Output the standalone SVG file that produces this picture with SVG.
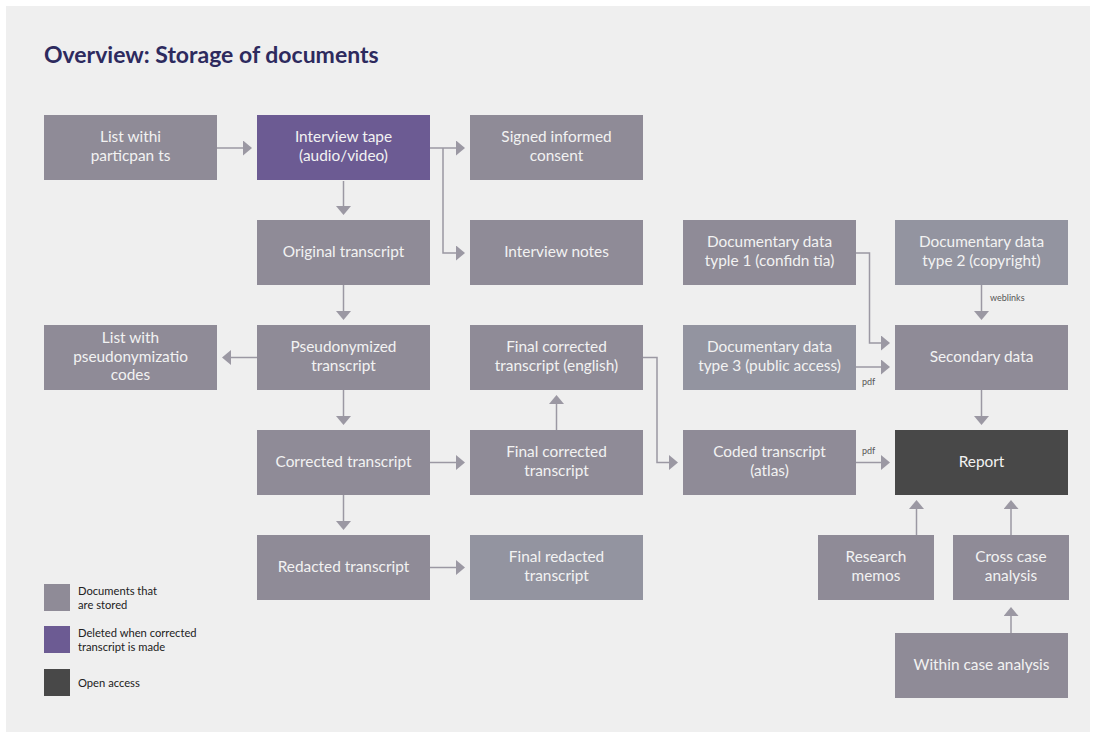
<svg xmlns="http://www.w3.org/2000/svg" width="1096" height="738" viewBox="0 0 1096 738">
<defs>
<style>
.bx{fill:#8f8b97}
.bb{fill:#9394a0}
.pu{fill:#6c5b93}
.dk{fill:#484848}
.t{font-family:Lato,"Open Sans",sans-serif;font-size:15.4px;fill:#f2f2f2;text-anchor:middle}
.c{fill:none;stroke:#9b98a3;stroke-width:1.5}
.lb{font-family:Lato,"Open Sans",sans-serif;font-size:9px;fill:#555}
.lg{font-family:Lato,"Open Sans",sans-serif;font-size:11.2px;fill:#222}
</style>
<marker id="ah" viewBox="0 0 9 15" markerWidth="9" markerHeight="15" markerUnits="userSpaceOnUse" refX="0" refY="7.5" orient="auto">
<path d="M0,0 L9,7.5 L0,15 Z" fill="#9b98a3"/>
</marker>
</defs>
<rect x="0" y="0" width="1096" height="738" fill="#ffffff"/>
<rect x="6" y="6" width="1084" height="726" fill="#efefef"/>
<text x="44" y="63" font-family="Lato,'Open Sans',sans-serif" font-size="23" font-weight="bold" fill="#2d2a5e">Overview: Storage of documents</text>

<g id="connectors">
<path class="c" marker-end="url(#ah)" d="M217,148 H243"/>
<path class="c" marker-end="url(#ah)" d="M430,148 H456"/>
<path class="c" marker-end="url(#ah)" d="M443,148 V253 H456"/>
<path class="c" marker-end="url(#ah)" d="M343.5,181 V206"/>
<path class="c" marker-end="url(#ah)" d="M343.5,285 V311"/>
<path class="c" marker-end="url(#ah)" d="M257,357.5 H231"/>
<path class="c" marker-end="url(#ah)" d="M343.5,390 V416"/>
<path class="c" marker-end="url(#ah)" d="M430,462.5 H456"/>
<path class="c" marker-end="url(#ah)" d="M343.5,495 V521"/>
<path class="c" marker-end="url(#ah)" d="M430,567.5 H456"/>
<path class="c" marker-end="url(#ah)" d="M556.5,430 V404"/>
<path class="c" marker-end="url(#ah)" d="M643,357.5 H657 V462.5 H669"/>
<path class="c" marker-end="url(#ah)" d="M856,253 H869.5 V343 H881"/>
<path class="c" marker-end="url(#ah)" d="M856,367 H881"/>
<path class="c" marker-end="url(#ah)" d="M981.5,285 V311"/>
<path class="c" marker-end="url(#ah)" d="M981.5,390 V416"/>
<path class="c" marker-end="url(#ah)" d="M856,462.5 H881"/>
<path class="c" marker-end="url(#ah)" d="M916.5,535 V509"/>
<path class="c" marker-end="url(#ah)" d="M1011,535 V509"/>
<path class="c" marker-end="url(#ah)" d="M1011,633 V616"/>
<text class="lb" x="990" y="301">weblinks</text>
<text class="lb" x="862" y="385">pdf</text>
<text class="lb" x="862" y="454">pdf</text>
</g>

<g id="n-list-participants"><rect class="bx" x="44" y="115" width="173" height="65"/><text class="t" x="130.5" y="142">List withi</text><text class="t" x="130.5" y="161">particpan ts</text></g>
<g id="n-interview-tape"><rect class="pu" x="257" y="115" width="173" height="65"/><text class="t" x="343.5" y="142">Interview tape</text><text class="t" x="343.5" y="161">(audio/video)</text></g>
<g id="n-signed-consent"><rect class="bx" x="470" y="115" width="173" height="65"/><text class="t" x="556.5" y="142">Signed informed</text><text class="t" x="556.5" y="161">consent</text></g>
<g id="n-original-transcript"><rect class="bx" x="257" y="220" width="173" height="65"/><text class="t" x="343.5" y="257">Original transcript</text></g>
<g id="n-interview-notes"><rect class="bx" x="470" y="220" width="173" height="65"/><text class="t" x="556.5" y="257">Interview notes</text></g>
<g id="n-doc-type1"><rect class="bx" x="683" y="220" width="173" height="65"/><text class="t" x="769.5" y="247">Documentary data</text><text class="t" x="769.5" y="266">typle 1 (confidn tia)</text></g>
<g id="n-doc-type2"><rect class="bb" x="895" y="220" width="173" height="65"/><text class="t" x="981.5" y="247">Documentary data</text><text class="t" x="981.5" y="266">type 2 (copyright)</text></g>
<g id="n-list-pseudo"><rect class="bx" x="44" y="325" width="173" height="65"/><text class="t" x="130.5" y="343">List with</text><text class="t" x="130.5" y="361.5">pseudonymizatio</text><text class="t" x="130.5" y="380">codes</text></g>
<g id="n-pseudo-transcript"><rect class="bx" x="257" y="325" width="173" height="65"/><text class="t" x="343.5" y="352">Pseudonymized</text><text class="t" x="343.5" y="371">transcript</text></g>
<g id="n-final-english"><rect class="bx" x="470" y="325" width="173" height="65"/><text class="t" x="556.5" y="352">Final corrected</text><text class="t" x="556.5" y="371">transcript (english)</text></g>
<g id="n-doc-type3"><rect class="bb" x="683" y="325" width="173" height="65"/><text class="t" x="769.5" y="352">Documentary data</text><text class="t" x="769.5" y="371">type 3 (public access)</text></g>
<g id="n-secondary"><rect class="bx" x="895" y="325" width="173" height="65"/><text class="t" x="981.5" y="362">Secondary data</text></g>
<g id="n-corrected"><rect class="bx" x="257" y="430" width="173" height="65"/><text class="t" x="343.5" y="467">Corrected transcript</text></g>
<g id="n-final-corrected"><rect class="bx" x="470" y="430" width="173" height="65"/><text class="t" x="556.5" y="457">Final corrected</text><text class="t" x="556.5" y="476">transcript</text></g>
<g id="n-coded"><rect class="bx" x="683" y="430" width="173" height="65"/><text class="t" x="769.5" y="457">Coded transcript</text><text class="t" x="769.5" y="476">(atlas)</text></g>
<g id="n-report"><rect class="dk" x="895" y="430" width="173" height="65"/><text class="t" x="981.5" y="467">Report</text></g>
<g id="n-redacted"><rect class="bx" x="257" y="535" width="173" height="65"/><text class="t" x="343.5" y="572">Redacted transcript</text></g>
<g id="n-final-redacted"><rect class="bb" x="470" y="535" width="173" height="65"/><text class="t" x="556.5" y="562">Final redacted</text><text class="t" x="556.5" y="581">transcript</text></g>
<g id="n-research-memos"><rect class="bx" x="818" y="535" width="116" height="65"/><text class="t" x="876" y="562">Research</text><text class="t" x="876" y="581">memos</text></g>
<g id="n-cross-case"><rect class="bx" x="953" y="535" width="116" height="65"/><text class="t" x="1011" y="562">Cross case</text><text class="t" x="1011" y="581">analysis</text></g>
<g id="n-within-case"><rect class="bx" x="895" y="633" width="173" height="65"/><text class="t" x="981.5" y="670">Within case analysis</text></g>

<g id="legend">
<rect class="bx" x="44" y="584" width="26" height="27"/>
<text class="lg" x="78" y="595">Documents that</text><text class="lg" x="78" y="609">are stored</text>
<rect class="pu" x="44" y="626" width="26" height="27"/>
<text class="lg" x="78" y="637">Deleted when corrected</text><text class="lg" x="78" y="651">transcript is made</text>
<rect class="dk" x="44" y="669" width="26" height="27"/>
<text class="lg" x="78" y="687">Open access</text>
</g>
</svg>
